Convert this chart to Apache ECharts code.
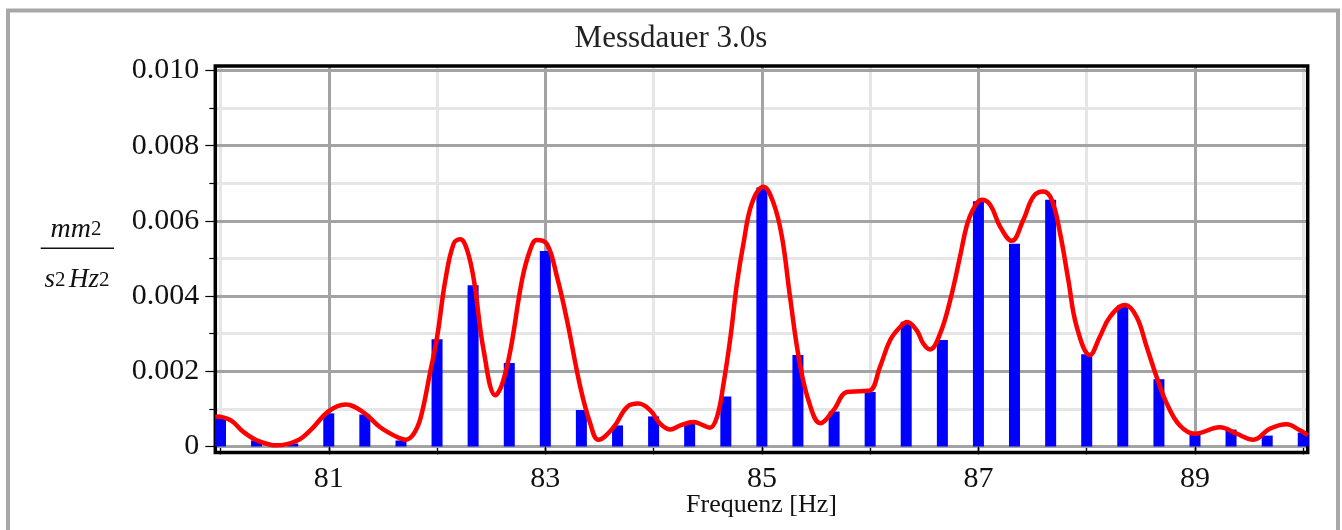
<!DOCTYPE html>
<html>
<head>
<meta charset="utf-8">
<script src="https://cdn.jsdelivr.net/npm/echarts@6/dist/echarts.min.js"></script>
<style>
html,body{margin:0;padding:0;background:#fff;}
#chart{width:1342px;height:530px;}
</style>
</head>
<body>
<div id="chart"></div>
<script>
// ---- data ----
var titleText = 'Messdauer 3.0s';
var xName = 'Frequenz [Hz]';
var binFreq = [80, 80.333, 80.667, 81, 81.333, 81.667, 82, 82.333, 82.667, 83, 83.333, 83.667, 84, 84.333, 84.667,
  85, 85.333, 85.667, 86, 86.333, 86.667, 87, 87.333, 87.667, 88, 88.333, 88.667, 89, 89.333, 89.667, 90];
var binVal = [0.00077, 0.00016, 0.00008, 0.00088, 0.00085, 0.00016, 0.00285, 0.00429, 0.00222, 0.0052, 0.00097, 0.00056, 0.0008, 0.00061, 0.00133,
  0.00689, 0.00243, 0.00093, 0.00145, 0.00332, 0.00283, 0.00652, 0.00539, 0.00656, 0.00245, 0.00376, 0.00179, 0.00034, 0.00045, 0.00029, 0.00037];
var curveFreq = [79.952, 80.0, 80.1, 80.215, 80.34, 80.52, 80.71, 80.83, 81.0, 81.155, 81.32, 81.475, 81.63, 81.71, 81.785, 81.85, 81.94,
  82.0, 82.077, 82.154, 82.215, 82.277, 82.34, 82.43, 82.54, 82.6, 82.677, 82.785, 82.86, 82.92, 83.015, 83.108, 83.2, 83.323, 83.415, 83.49,
  83.63, 83.754, 83.86, 83.97, 84.06, 84.154, 84.246, 84.37, 84.46, 84.52, 84.585, 84.646, 84.71, 84.77, 84.83, 84.908,
  85.015, 85.108, 85.185, 85.26, 85.34, 85.43, 85.54, 85.66, 85.785, 85.908, 86.0, 86.09, 86.185, 86.277, 86.34, 86.43, 86.49, 86.554, 86.646,
  86.74, 86.83, 86.89, 86.95, 87.03, 87.108, 87.2, 87.308, 87.415, 87.508, 87.6, 87.677, 87.754, 87.83, 87.908,
  88.03, 88.12, 88.215, 88.354, 88.46, 88.554, 88.646, 88.74, 88.86, 89.0, 89.23, 89.385, 89.54, 89.69, 89.846, 89.97, 90.041];
var curveVal = [0.0008, 0.00079, 0.00069, 0.00038, 0.00016, 0.00003, 0.00016, 0.00043, 0.00094, 0.00112, 0.00091, 0.00051, 0.00025, 0.00018, 0.00034, 0.00078, 0.00203,
  0.0029, 0.00443, 0.0054, 0.00551, 0.00523, 0.00443, 0.00256, 0.00136, 0.00165, 0.00255, 0.00443, 0.00523, 0.00549, 0.00538, 0.00451, 0.00336, 0.00158, 0.00061, 0.00018,
  0.00051, 0.00105, 0.00114, 0.00096, 0.00061, 0.00045, 0.00056, 0.00065, 0.00056, 0.0005, 0.00078, 0.00167, 0.00291, 0.00434, 0.0054, 0.00647,
  0.00691, 0.00647, 0.00558, 0.00398, 0.00238, 0.00123, 0.00062, 0.00096, 0.00145, 0.00147, 0.00149, 0.00211, 0.00283, 0.00318, 0.00331, 0.00309, 0.00274, 0.00258, 0.003,
  0.0039, 0.00505, 0.00585, 0.0063, 0.00656, 0.00643, 0.00585, 0.00547, 0.00603, 0.00665, 0.00678, 0.00656, 0.00567, 0.00443, 0.00318,
  0.00243, 0.00291, 0.00345, 0.00376, 0.00345, 0.00265, 0.00185, 0.00114, 0.00056, 0.00034, 0.00051, 0.00034, 0.00018, 0.00047, 0.00059, 0.00043, 0.0003];
var xMajorTicks = [81, 83, 85, 87, 89];
var xMinorTicks = [80, 82, 84, 86, 88, 90];
var yMajorTicks = [0, 0.002, 0.004, 0.006, 0.008, 0.010];
var yMinorTicks = [0.001, 0.003, 0.005, 0.007, 0.009];
var yLabels = ['0', '0.002', '0.004', '0.006', '0.008', '0.010'];

// ---- chart ----
var FONT = '"Liberation Serif", "Times New Roman", serif';
var XMIN = 79.952, XMAX = 90.041, YMIN = -0.00016, YMAX = 0.01012;
var DARK = '#a3a3a3', LIGHT = '#e6e6e6';

var barData = binFreq.map(function (f, i) { return [f, binVal[i]]; });
var lineData = curveFreq.map(function (f, i) { return [f, curveVal[i]]; });

function yLabelFmt(v) {
  for (var i = 0; i < yMajorTicks.length; i++) {
    if (Math.abs(v - yMajorTicks[i]) < 1e-9) return yLabels[i];
  }
  return '';
}

var chart = echarts.init(document.getElementById('chart'), null, {renderer: 'canvas'});
chart.setOption({
  animation: false,
  backgroundColor: '#fff',
  title: {
    text: titleText, left: 'center', top: 23, padding: 0,
    textStyle: {fontFamily: FONT, fontSize: 31, fontWeight: 'normal', color: '#222'}
  },
  grid: {
    left: 215.3, top: 66, width: 1092.4, height: 386.5, outerBoundsMode: 'none', containLabel: false,
    show: true, borderColor: '#000', borderWidth: 3.5, backgroundColor: 'transparent', z: 1.5
  },
  xAxis: [
    {
      type: 'value', min: XMIN, max: XMAX, z: 0, position: 'bottom', offset: 0,
      axisLine: {show: false},
      axisTick: {show: true, customValues: xMinorTicks, length: 8, lineStyle: {color: '#000', width: 1.2}},
      axisLabel: {show: false},
      splitLine: {show: true, lineStyle: {color: LIGHT, width: 3}}
    },
    {
      type: 'value', min: XMIN, max: XMAX, z: 1, position: 'bottom', offset: 0,
      axisLine: {show: false},
      axisTick: {show: true, customValues: xMajorTicks, length: 8, lineStyle: {color: '#000', width: 1.2}},
      axisLabel: {show: true, customValues: xMajorTicks, margin: 12, fontFamily: FONT, fontSize: 30, color: '#111',
        formatter: function (v) { return String(Math.round(v)); }},
      splitLine: {show: true, lineStyle: {color: DARK, width: 3}},
      name: xName, nameLocation: 'middle', nameGap: 40, nameMoveOverlap: false,
      nameTextStyle: {fontFamily: FONT, fontSize: 26, color: '#111'}
    }
  ],
  yAxis: [
    {
      type: 'value', min: YMIN, max: YMAX, z: 0, position: 'left', offset: 0,
      axisLine: {show: false},
      axisTick: {show: true, customValues: yMinorTicks, length: 6, lineStyle: {color: '#000', width: 1.2}},
      axisLabel: {show: false},
      splitLine: {show: true, lineStyle: {color: LIGHT, width: 3}}
    },
    {
      type: 'value', min: YMIN, max: YMAX, z: 1, position: 'left', offset: 0,
      axisLine: {show: false},
      axisTick: {show: true, customValues: yMajorTicks, length: 10, lineStyle: {color: '#000', width: 1.2}},
      axisLabel: {show: true, customValues: yMajorTicks, margin: 16, fontFamily: FONT, fontSize: 30, color: '#111',
        formatter: yLabelFmt},
      splitLine: {show: true, lineStyle: {color: DARK, width: 3}}
    }
  ],
  series: [
    {
      type: 'bar', xAxisIndex: 1, yAxisIndex: 1, data: barData, barWidth: 11,
      itemStyle: {color: '#0000ff'}, z: 3, silent: true
    },
    {
      type: 'line', xAxisIndex: 1, yAxisIndex: 1, data: lineData, smooth: 0.4, showSymbol: false,
      lineStyle: {color: '#ff0000', width: 4.5}, z: 4, silent: true
    }
  ],
  graphic: [
    {type: 'rect', shape: {x: 8, y: 10.5, width: 1330, height: 600}, style: {fill: 'none', stroke: '#a8a8a8', lineWidth: 4}, silent: true},
    {type: 'text', x: 76, y: 229.5, style: {text: '{i|mm}{n|2}', align: 'center', verticalAlign: 'middle',
      rich: {i: {fontFamily: FONT, fontStyle: 'italic', fontSize: 28, fill: '#111'}, n: {fontFamily: FONT, fontSize: 21, fill: '#111'}}}},
    {type: 'line', shape: {x1: 40.7, y1: 248.3, x2: 114, y2: 248.3}, style: {stroke: '#111', lineWidth: 1.5}},
    {type: 'text', x: 77, y: 280.2, style: {text: '{i|s}{n|2} {i|Hz}{n|2}', align: 'center', verticalAlign: 'middle',
      rich: {i: {fontFamily: FONT, fontStyle: 'italic', fontSize: 27, fill: '#111'}, n: {fontFamily: FONT, fontSize: 21, fill: '#111'}}}}
  ]
});
</script>
</body>
</html>
